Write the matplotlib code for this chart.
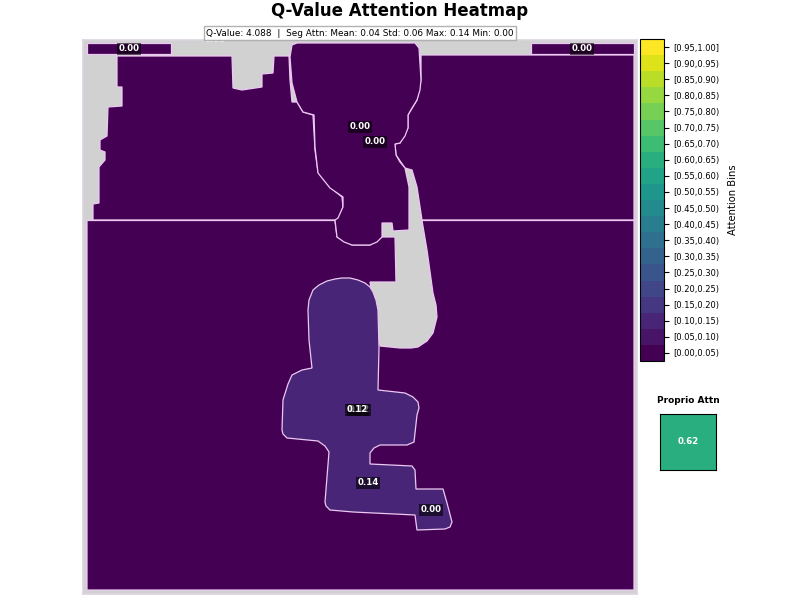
import matplotlib
matplotlib.use('Agg')
import matplotlib.pyplot as plt
from matplotlib.colors import BoundaryNorm
from matplotlib.cm import ScalarMappable
import numpy as np

# segment outlines (image pixels)
strip_left = [(87, 43), (171, 43), (171, 54), (87, 54)]
strip_right = [(531, 43), (634, 43), (634, 54.5), (531, 54.5)]
upper_left = [(117, 56), (232, 56), (233, 88), (242, 90), (262, 87), (262, 74), (273, 73), (274, 56),
              (289, 56), (290, 80), (292, 102), (297, 102), (303, 112), (313, 115), (315, 150), (318, 172),
              (330, 187), (342, 197), (343, 207), (338, 220), (93, 220), (93, 204), (99, 203), (99, 167),
              (105, 160), (105, 152), (100, 150), (100, 140), (107, 136), (108, 107), (122, 106), (122, 87),
              (117, 87)]
center_body = [(292, 45), (297, 43), (415, 43), (419, 48), (421, 80), (420, 90), (417, 100), (412, 108),
               (408, 115), (408, 128), (405, 136), (400, 143), (395, 144), (396, 155), (400, 162), (405, 168),
               (409, 187), (409, 230), (393, 231), (392, 223), (382, 223), (382, 237), (377, 242), (370, 245),
               (352, 245), (344, 242), (337, 237), (335, 220), (338, 218), (343, 207), (343, 197), (330, 188),
               (318, 173), (315, 147), (314, 115), (303, 112), (297, 102), (292, 83), (290, 57)]
upper_right = [(421, 55), (634, 55), (634, 220), (422, 220), (417, 187), (412, 170), (405, 168), (396, 155),
               (395, 144), (400, 143), (408, 128), (408, 115), (417, 100), (421, 80)]
lower_big = [(87, 220.5), (335, 220.5), (337, 237), (352, 245), (370, 245), (382, 237), (395, 237), (396, 282),
             (370, 282), (380, 346), (400, 348), (411, 348), (418, 347), (427, 341), (433, 333), (437, 317),
             (436, 305), (433, 293), (427, 250), (422, 220.5), (634, 220.5), (634, 590), (87, 590)]
robot = [(342, 278), (350, 278), (358, 280), (365, 283), (370, 287), (373, 292), (376, 300), (378, 310),
         (379, 348), (378, 390), (405, 393), (413, 397), (418, 402), (419, 408), (417, 415), (414, 442),
         (407, 445), (380, 445), (374, 448), (370, 453), (370, 464), (412, 466), (415, 470), (416, 489),
         (443, 489), (447, 503), (452, 522), (450, 527), (445, 529), (417, 530), (415, 515), (353, 512),
         (330, 510), (326, 506), (325, 502), (329, 452), (325, 446), (318, 441), (287, 438), (283, 434),
         (282, 430), (283, 400), (288, 384), (292, 375), (302, 370), (312, 368), (309, 340), (308, 310),
         (309, 300), (313, 290), (319, 285), (327, 281), (335, 279)]

segments = [strip_left, strip_right, upper_left, upper_right, lower_big, center_body, robot]
seg_values = [0.0, 0.0, 0.0, 0.0, 0.0, 0.0, 0.12]

label_xy = [(129, 49), (582, 49), (360, 127), (375, 142), (359, 410), (357, 410), (368, 483), (431, 510)]
label_vals = [0.00, 0.00, 0.00, 0.00, 0.12, 0.12, 0.14, 0.00]

bin_edges = np.arange(0, 1.01, 0.05)
bin_labels = ['[%.2f,%.2f)' % (bin_edges[i], bin_edges[i + 1]) for i in range(19)] + ['[0.95,1.00]']
proprio = 0.62

cmap = plt.get_cmap('viridis', 20)
norm = BoundaryNorm(bin_edges, 20)

fig = plt.figure(figsize=(8, 6), dpi=100)
fig.text(0.499, 0.981, 'Q-Value Attention Heatmap', fontsize=12, fontweight='bold', ha='center', va='center')


def rect(x0, y0, x1, y1):
    return [x0 / 800, 1 - y1 / 600, (x1 - x0) / 800, (y1 - y0) / 600]


# main heatmap
ax = fig.add_axes(rect(83, 40, 637, 594))
ax.set_facecolor('#d1d1d1')
ax.set_xlim(83, 637)
ax.set_ylim(594, 40)
ax.set_xticks([])
ax.set_yticks([])
for s in ax.spines.values():
    s.set_color('#ddd3e0')
    s.set_linewidth(1.2)

for pts, v in zip(segments, seg_values):
    xs, ys = zip(*pts)
    ax.fill(xs, ys, facecolor=cmap(norm(v)), edgecolor='#ecc8f2', linewidth=0.9)

for (x, y), v in zip(label_xy, label_vals):
    ax.text(x, y, '%.2f' % v, color='white', fontsize=6.2, fontweight='bold', ha='center', va='center',
            bbox=dict(facecolor='black', alpha=0.6, edgecolor='none', pad=0.8))

# label mostly hidden by the info box
fig.text(215 / 800, 1 - 40 / 600, '0.00', color='white', fontsize=6.2, fontweight='bold', ha='center', va='center',
         zorder=3)
fig.text(360 / 800, 1 - 33 / 600, 'Q-Value: 4.088  |  Seg Attn: Mean: 0.04 Std: 0.06 Max: 0.14 Min: 0.00',
         fontsize=6.4, ha='center', va='center', zorder=5,
         bbox=dict(facecolor='white', edgecolor='#aaaaaa', alpha=0.9, pad=1.5))

# colorbar
cax = fig.add_axes(rect(640, 39, 664, 361))
sm = ScalarMappable(norm=norm, cmap=cmap)
cb = fig.colorbar(sm, cax=cax, ticks=(bin_edges[:-1] + bin_edges[1:]) / 2, spacing='proportional')
cb.ax.set_yticklabels(bin_labels, fontsize=6)
cb.ax.tick_params(length=3.5, width=0.8, pad=3.5)
cb.ax.minorticks_off()
cb.set_label('Attention Bins', fontsize=7.2, labelpad=5.5)

# proprio box
pax = fig.add_axes(rect(660, 414, 716, 470))
pax.set_facecolor(cmap(norm(proprio)))
pax.set_xticks([])
pax.set_yticks([])
pax.set_title('Proprio Attn', fontsize=6.5, fontweight='bold', pad=8)
pax.text(0.5, 0.5, '%.2f' % proprio, color='white', fontsize=6.2, fontweight='bold', ha='center', va='center',
         transform=pax.transAxes)

plt.savefig('out.png', dpi=100)
